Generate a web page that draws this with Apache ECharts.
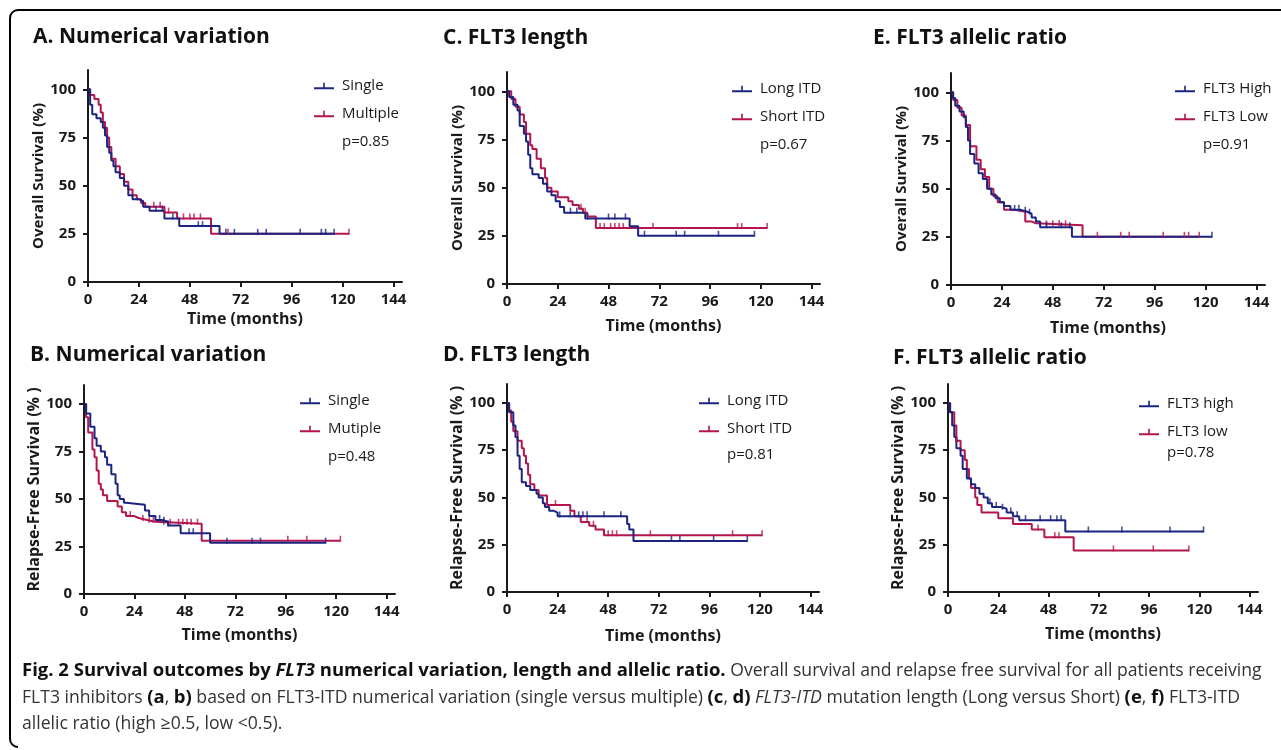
<!DOCTYPE html>
<html>
<head>
<meta charset="utf-8">
<title>Survival outcomes by FLT3</title>
<script src="https://cdn.jsdelivr.net/npm/echarts@6.0.0/dist/echarts.min.js"></script>
<style>
  html, body { margin: 0; padding: 0; background: #fff; }
  #chart { width: 1281px; height: 750px; }
</style>
</head>
<body>
<div id="chart"></div>
<script>
// tick labels
const xTicks = [0, 24, 48, 72, 96, 120, 144];
const yTicks = [0, 25, 50, 75, 100];

// A. overall survival, numerical variation
const osSingleT = [0, 1, 2, 4, 6, 7, 8, 9, 10, 11, 12, 13, 15, 17, 19, 21, 24, 26, 29, 36, 43, 62, 116];
const osSingleS = [100, 92, 87, 85, 83, 80, 76, 70, 67, 63, 60, 57, 54, 50, 45, 43, 42, 39, 37, 33, 29, 25, 25];
const osSingleCens = [32, 35, 40, 52, 54, 65, 69, 80, 84, 100, 110, 112, 116];
const osMultipleT = [0, 1, 3, 5, 6, 7, 8, 9, 10, 11, 13, 15, 17, 19, 21, 23, 25, 27, 36, 42, 58, 123];
const osMultipleS = [100, 97, 95, 92, 88, 83, 80, 75, 70, 64, 60, 56, 52, 48, 45, 43, 41, 39, 36, 33, 25, 25];
const osMultipleCens = [31, 34, 36, 38, 45, 48, 50, 53, 66, 123];

// C. overall survival, ITD length
const osLongT = [0, 1, 3, 5, 6, 8, 9, 10, 11, 12, 15, 17, 19, 21, 23, 25, 27, 37, 58, 62, 117];
const osLongS = [100, 97, 93, 90, 82, 78, 74, 67, 60, 57, 55, 52, 48, 46, 43, 40, 37, 34, 30, 25, 25];
const osLongCens = [30, 33, 38, 48, 51, 56, 65, 80, 84, 100, 117];
const osShortT = [0, 2, 4, 6, 8, 9, 11, 12, 14, 16, 18, 19, 21, 24, 29, 31, 34, 36, 38, 42, 123];
const osShortS = [100, 96, 92, 88, 84, 78, 72, 70, 65, 60, 55, 50, 48, 45, 43, 41, 39, 37, 35, 29, 29];
const osShortCens = [35, 37, 44, 46, 49, 51, 53, 55, 69, 109, 111, 123];

// E. overall survival, allelic ratio
const osHighT = [0, 1, 2, 4, 6, 7, 8, 9, 11, 13, 15, 17, 19, 21, 23, 25, 28, 33, 36, 38, 40, 42, 57, 123];
const osHighS = [100, 97, 93, 90, 87, 82, 75, 68, 63, 58, 55, 50, 47, 45, 43, 41, 39, 38, 37, 35, 33, 30, 25, 25];
const osHighCens = [30, 32, 35, 37, 45, 52, 56, 123];
const osLowT = [0, 1, 3, 5, 7, 9, 12, 14, 16, 18, 20, 22, 25, 30, 35, 38, 40, 62, 117];
const osLowS = [100, 96, 92, 88, 83, 72, 65, 60, 56, 50, 46, 43, 39, 38, 33, 32, 31, 25, 25];
const osLowCens = [45, 48, 51, 54, 69, 80, 84, 100, 110, 112, 117];

// B. relapse-free survival, numerical variation
const rfsSingleT = [0, 1, 3, 5, 6, 8, 10, 11, 13, 15, 16, 17, 19, 20, 29, 31, 34, 37, 40, 46, 60, 115];
const rfsSingleS = [100, 95, 88, 82, 78, 75, 72, 68, 63, 58, 52, 50, 48, 47, 44, 41, 39, 38, 36, 32, 27, 27];
const rfsSingleCens = [36, 38, 40, 50, 52, 68, 80, 84, 115];
const rfsMultipleT = [0, 1, 2, 4, 5, 6, 7, 8, 9, 11, 16, 18, 20, 24, 26, 30, 34, 56, 122];
const rfsMultipleS = [100, 93, 85, 76, 72, 65, 58, 55, 52, 49, 46, 43, 41, 40, 39, 38, 37, 28, 28];
const rfsMultipleCens = [22, 28, 31, 33, 38, 41, 45, 47, 49, 51, 54, 97, 106, 122];

// D. relapse-free survival, ITD length
const rfsLongT = [0, 1, 3, 4, 5, 6, 7, 9, 11, 14, 15, 17, 18, 20, 22, 24, 57, 58, 60, 114];
const rfsLongS = [100, 95, 88, 82, 72, 65, 58, 56, 54, 52, 50, 47, 45, 43, 42, 40, 36, 33, 27, 27];
const rfsLongCens = [25, 30, 34, 36, 38, 46, 54, 78, 82, 98, 114];
const rfsShortT = [0, 1, 2, 3, 5, 7, 8, 9, 10, 11, 13, 15, 19, 30, 32, 35, 39, 42, 46, 121];
const rfsShortS = [100, 96, 90, 85, 80, 76, 72, 68, 62, 57, 54, 51, 46, 43, 40, 37, 35, 33, 30, 30];
const rfsShortCens = [23, 38, 41, 48, 50, 52, 68, 107, 121];

// F. relapse-free survival, allelic ratio
const rfsHighT = [0, 1, 2, 3, 4, 6, 7, 9, 11, 13, 15, 17, 19, 21, 25, 28, 31, 34, 56, 122];
const rfsHighS = [100, 95, 88, 82, 76, 72, 65, 60, 57, 55, 52, 50, 47, 45, 44, 42, 40, 38, 32, 32];
const rfsHighCens = [20, 23, 26, 30, 33, 37, 44, 49, 52, 54, 67, 83, 106, 122];
const rfsLowT = [0, 1, 3, 4, 6, 8, 9, 10, 11, 13, 14, 16, 24, 31, 40, 46, 60, 115];
const rfsLowS = [100, 95, 88, 80, 75, 70, 65, 60, 55, 50, 46, 42, 39, 36, 33, 29, 22, 22];
const rfsLowCens = [4, 8, 43, 51, 53, 79, 98, 115];

const BLUE = '#1b2480';
const RED = '#b3164f';
const FONT = '"Open Sans", "Noto Sans", sans-serif';
const INK = '#1a1a1a';

const panels = [
  { title: 'A. Numerical variation', tx: 33, ty: 37, grid: { left: 88, top: 70, width: 314, height: 212 },
    yName: 'Overall Survival (%)', yNameSize: 15, xGap: 29, yGap: 41,
    blue: ['Single', osSingleT, osSingleS, osSingleCens], red: ['Multiple', osMultipleT, osMultipleS, osMultipleCens],
    leg: [309, 72], pText: 'p=0.85', p: [342, 142] },
  { title: 'C. FLT3 length', tx: 443, ty: 38, grid: { left: 507, top: 72, width: 313, height: 212 },
    yName: 'Overall Survival (%)', yNameSize: 15, xGap: 34, yGap: 41,
    blue: ['Long ITD', osLongT, osLongS, osLongCens], red: ['Short ITD', osShortT, osShortS, osShortCens],
    leg: [727, 75], pText: 'p=0.67', p: [760, 145] },
  { title: 'E. FLT3 allelic ratio', tx: 873, ty: 38, grid: { left: 951, top: 73, width: 314, height: 212 },
    yName: 'Overall Survival (%)', yNameSize: 15, xGap: 35, yGap: 41,
    blue: ['FLT3 High', osHighT, osHighS, osHighCens], red: ['FLT3 Low', osLowT, osLowS, osLowCens],
    leg: [1170, 75], pText: 'p=0.91', p: [1203, 145] },
  { title: 'B. Numerical variation', tx: 30, ty: 355, grid: { left: 84, top: 385, width: 311, height: 209 },
    yName: 'Relapse-Free Survival (% )', yNameSize: 16, xGap: 33, yGap: 34,
    blue: ['Single', rfsSingleT, rfsSingleS, rfsSingleCens], red: ['Mutiple', rfsMultipleT, rfsMultipleS, rfsMultipleCens],
    leg: [295, 387], pText: 'p=0.48', p: [328, 457] },
  { title: 'D. FLT3 length', tx: 443, ty: 355, grid: { left: 507, top: 384, width: 312, height: 208 },
    yName: 'Relapse-Free Survival (% )', yNameSize: 16, xGap: 36, yGap: 40,
    blue: ['Long ITD', rfsLongT, rfsLongS, rfsLongCens], red: ['Short ITD', rfsShortT, rfsShortS, rfsShortCens],
    leg: [694, 387], pText: 'p=0.81', p: [727, 455] },
  { title: 'F. FLT3 allelic ratio', tx: 893, ty: 358, grid: { left: 948, top: 384, width: 310, height: 208 },
    yName: 'Relapse-Free Survival (% )', yNameSize: 16, xGap: 34, yGap: 41,
    blue: ['FLT3 high', rfsHighT, rfsHighS, rfsHighCens], red: ['FLT3 low', rfsLowT, rfsLowS, rfsLowCens],
    leg: [1134, 390], pText: 'p=0.78', p: [1167, 453] }
];

// value of the step curve at time t
function survAt(T, S, t) {
  let v = S[0];
  for (let k = 0; k < T.length; k++) { if (T[k] <= t) v = S[k]; }
  return v;
}

const grids = [], xAxes = [], yAxes = [], series = [], legends = [], graphics = [];

panels.forEach((p, i) => {
  grids.push(p.grid);
  xAxes.push({
    type: 'value', gridIndex: i, min: 0, max: 148,
    name: 'Time (months)', nameLocation: 'middle', nameGap: p.xGap,
    nameTextStyle: { fontFamily: FONT, fontSize: 16, fontWeight: 'bold', color: INK },
    axisLine: { lineStyle: { color: INK, width: 2 } },
    axisTick: { length: 5, lineStyle: { color: INK, width: 2 }, customValues: xTicks },
    axisLabel: { customValues: xTicks, margin: 10, fontFamily: FONT, fontSize: 15, fontWeight: 'bold', color: INK },
    splitLine: { show: false }
  });
  yAxes.push({
    type: 'value', gridIndex: i, min: 0, max: 110,
    name: p.yName, nameLocation: 'middle', nameGap: p.yGap,
    nameTextStyle: { fontFamily: FONT, fontSize: p.yNameSize, fontWeight: 'bold', color: INK },
    axisLine: { show: true, lineStyle: { color: INK, width: 2 } },
    axisTick: { show: true, length: 5, lineStyle: { color: INK, width: 2 }, customValues: yTicks },
    axisLabel: { customValues: yTicks, margin: 12, fontFamily: FONT, fontSize: 15, fontWeight: 'bold', color: INK },
    splitLine: { show: false }
  });

  [[p.red, RED], [p.blue, BLUE]].forEach(([c, color]) => {
    const [name, T, S, cens] = c;
    series.push({
      name, type: 'line', step: 'end', xAxisIndex: i, yAxisIndex: i,
      data: T.map((t, k) => [t, S[k]]),
      showSymbol: false, symbol: 'none',
      lineStyle: { color, width: 2 }, itemStyle: { color },
      animation: false, silent: true
    });
    series.push({
      name: name + ' censored', type: 'scatter', xAxisIndex: i, yAxisIndex: i,
      data: cens.map(t => [t, survAt(T, S, t)]),
      symbol: 'rect', symbolSize: [1.6, 6], symbolOffset: [0, -2],
      itemStyle: { color }, z: 3, animation: false, silent: true
    });
  });

  legends.push({
    left: p.leg[0], top: p.leg[1], orient: 'vertical', selectedMode: false,
    data: [p.blue[0], p.red[0]],
    icon: 'path://M0,4.5 H20 V6.5 H0 Z M9.2,0 H10.8 V6.5 H9.2 Z',
    itemWidth: 20, itemHeight: 6.5, itemGap: 10,
    textStyle: { fontFamily: FONT, fontSize: 15, color: INK, lineHeight: 18, padding: [0, 0, 0, 3] }
  });

  graphics.push({
    type: 'text', x: p.tx, y: p.ty,
    style: { text: p.title, fontFamily: FONT, fontSize: 21, fontWeight: 'bold', fill: '#111', verticalAlign: 'middle' }
  });
  graphics.push({
    type: 'text', x: p.p[0], y: p.p[1],
    style: { text: p.pText, fontFamily: FONT, fontSize: 15, fill: INK, verticalAlign: 'middle' }
  });
});

// outer frame: top and left edges with rounded corners
const frameStyle = { stroke: '#000', lineWidth: 2, fill: null };
graphics.push({ type: 'line', shape: { x1: 18, y1: 10, x2: 1281, y2: 10 }, style: frameStyle });
graphics.push({ type: 'line', shape: { x1: 10, y1: 18, x2: 10, y2: 739 }, style: frameStyle });
graphics.push({ type: 'arc', shape: { cx: 18, cy: 18, r: 8, startAngle: Math.PI, endAngle: Math.PI * 1.5 }, style: frameStyle });
graphics.push({ type: 'arc', shape: { cx: 18, cy: 739, r: 8, startAngle: Math.PI * 0.5, endAngle: Math.PI }, style: frameStyle });

// caption
const capRich = {
  b: { fontFamily: FONT, fontSize: 18.5, fontWeight: 'bold', fill: '#111' },
  bi: { fontFamily: FONT, fontSize: 18.5, fontWeight: 'bold', fontStyle: 'italic', fill: '#111' },
  i: { fontFamily: FONT, fontSize: 17.8, fontStyle: 'italic', fill: '#333' }
};
const capLines = [
  '{b|Fig. 2 Survival outcomes by }{bi|FLT3}{b| numerical variation, length and allelic ratio.} Overall survival and relapse free survival for all patients receiving',
  'FLT3 inhibitors {b|(a}, {b|b)} based on FLT3-ITD numerical variation (single versus multiple) {b|(c}, {b|d)} {i|FLT3-ITD} mutation length (Long versus Short) {b|(e}, {b|f)} FLT3-ITD',
  'allelic ratio (high \u22650.5, low <0.5).'
];
const capY = [671, 698, 724];
capLines.forEach((line, k) => {
  graphics.push({
    type: 'text', x: 22, y: capY[k],
    style: { text: line, rich: capRich, fontFamily: FONT, fontSize: 17.6, fill: '#333', verticalAlign: 'middle' }
  });
});

const chart = echarts.init(document.getElementById('chart'));
chart.setOption({
  animation: false,
  backgroundColor: '#fff',
  grid: grids,
  xAxis: xAxes,
  yAxis: yAxes,
  legend: legends,
  series: series,
  graphic: graphics
});
</script>
</body>
</html>
